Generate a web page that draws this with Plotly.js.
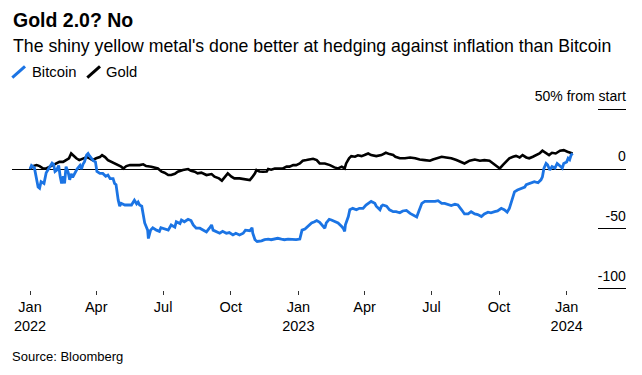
<!DOCTYPE html>
<html>
<head>
<meta charset="utf-8">
<script src="https://cdn.plot.ly/plotly-3.0.1.min.js"></script>
<style>html,body{margin:0;padding:0;background:#fff;}#chart{width:642px;height:375px;}</style>
</head>
<body>
<div id="chart"></div>
<script>
// Bitcoin: % change from start
const btcDates = ["2022-01-01","2022-01-03","2022-01-07","2022-01-12","2022-01-14","2022-01-16","2022-01-20","2022-01-23","2022-01-28","2022-01-31","2022-02-02","2022-02-04","2022-02-06","2022-02-09","2022-02-11","2022-02-13","2022-02-15","2022-02-17","2022-02-19","2022-02-22","2022-02-24","2022-02-26","2022-02-28","2022-03-03","2022-03-06","2022-03-10","2022-03-12","2022-03-14","2022-03-16","2022-03-19","2022-03-21","2022-03-23","2022-03-25","2022-03-28","2022-03-31","2022-04-02","2022-04-06","2022-04-10","2022-04-14","2022-04-17","2022-04-20","2022-04-24","2022-04-26","2022-04-28","2022-05-01","2022-05-03","2022-05-05","2022-05-10","2022-05-14","2022-05-19","2022-05-23","2022-05-26","2022-05-28","2022-05-30","2022-06-02","2022-06-06","2022-06-10","2022-06-11","2022-06-14","2022-06-17","2022-06-22","2022-06-26","2022-06-28","2022-07-03","2022-07-08","2022-07-12","2022-07-17","2022-07-19","2022-07-24","2022-07-26","2022-07-30","2022-08-04","2022-08-08","2022-08-11","2022-08-15","2022-08-20","2022-08-24","2022-08-29","2022-09-02","2022-09-05","2022-09-07","2022-09-11","2022-09-16","2022-09-20","2022-09-25","2022-09-29","2022-10-04","2022-10-08","2022-10-13","2022-10-18","2022-10-21","2022-10-27","2022-10-30","2022-10-31","2022-11-03","2022-11-06","2022-11-12","2022-11-16","2022-11-21","2022-11-25","2022-11-30","2022-12-04","2022-12-09","2022-12-13","2022-12-18","2022-12-23","2022-12-29","2023-01-03","2023-01-06","2023-01-10","2023-01-14","2023-01-19","2023-01-23","2023-01-26","2023-01-30","2023-02-04","2023-02-06","2023-02-08","2023-02-12","2023-02-15","2023-02-19","2023-02-24","2023-03-01","2023-03-03","2023-03-05","2023-03-06","2023-03-10","2023-03-12","2023-03-16","2023-03-21","2023-03-25","2023-03-30","2023-04-03","2023-04-07","2023-04-10","2023-04-15","2023-04-17","2023-04-22","2023-04-24","2023-04-26","2023-05-01","2023-05-05","2023-05-10","2023-05-14","2023-05-19","2023-05-23","2023-05-28","2023-06-02","2023-06-06","2023-06-11","2023-06-14","2023-06-18","2023-06-22","2023-06-27","2023-07-01","2023-07-06","2023-07-10","2023-07-15","2023-07-19","2023-07-24","2023-07-28","2023-08-02","2023-08-06","2023-08-11","2023-08-15","2023-08-20","2023-08-24","2023-08-29","2023-09-02","2023-09-07","2023-09-11","2023-09-16","2023-09-20","2023-09-25","2023-09-29","2023-10-04","2023-10-08","2023-10-12","2023-10-15","2023-10-18","2023-10-22","2023-10-26","2023-10-31","2023-11-05","2023-11-07","2023-11-11","2023-11-14","2023-11-18","2023-11-23","2023-11-27","2023-11-29","2023-12-01","2023-12-04","2023-12-06","2023-12-09","2023-12-12","2023-12-16","2023-12-19","2023-12-23","2023-12-26","2023-12-28","2024-01-01","2024-01-03","2024-01-05","2024-01-07","2024-01-09"];
const btcValues = [0,3,1,-15,-16,-10.5,-12,-3,2,5,4,-2,-1,3,-6,-12,-6,-12,2,-3,-9,-4,-7,-3.6,0,3,0,4,6,11.7,13,11,9,7,6,-2,-3.6,-3.6,-6,-5,-8,-8,-12,-13,-26,-31,-28.6,-30,-30,-30,-26,-29,-27.5,-30,-31,-45,-51,-58,-51,-49,-51,-52,-49,-50,-51,-46.7,-48.5,-44,-45.5,-42.5,-44,-42,-43,-46.7,-49.4,-49.4,-51,-52.5,-49.4,-46.7,-51,-52,-53.6,-52,-53.6,-53,-55,-53.6,-55,-53.6,-51,-51.5,-49,-53.6,-59,-60.5,-60,-59,-58.5,-59,-58.5,-57.8,-58.5,-59,-58.5,-59,-59,-58.5,-51,-50,-47.5,-45,-44,-43,-44.5,-47.5,-49.4,-45,-42,-42.5,-43.5,-45,-48,-49.4,-52,-46.5,-39.7,-34,-32.8,-34,-32.8,-32.8,-30,-28.6,-27,-28.6,-31,-34,-31,-30,-31,-34,-35.6,-35.6,-36.5,-35,-34.5,-37,-38.5,-40,-35,-28.6,-27,-27,-27.5,-27,-26.4,-28.6,-28.6,-30,-30.5,-29.4,-30,-34,-37.5,-37.5,-35.6,-37.5,-38,-39.7,-37.5,-36,-36.5,-35.6,-35,-32.8,-34,-36,-32.8,-27,-19,-17.5,-16,-15,-13,-12,-11.4,-10.5,-11.4,-9,-6.4,0.5,4.7,3.6,-0.8,2,0.8,4.7,2.5,0.8,4.7,6,9,7.8,11.7,13];

// Gold: % change from start
const goldDates = ["2022-01-01","2022-01-05","2022-01-10","2022-01-14","2022-01-19","2022-01-23","2022-01-28","2022-02-01","2022-02-06","2022-02-10","2022-02-15","2022-02-19","2022-02-23","2022-02-26","2022-02-28","2022-03-05","2022-03-09","2022-03-14","2022-03-19","2022-03-23","2022-03-27","2022-04-01","2022-04-06","2022-04-09","2022-04-13","2022-04-17","2022-04-22","2022-04-26","2022-05-01","2022-05-05","2022-05-08","2022-05-12","2022-05-17","2022-05-23","2022-05-30","2022-06-04","2022-06-08","2022-06-15","2022-06-20","2022-06-24","2022-06-29","2022-07-03","2022-07-08","2022-07-12","2022-07-17","2022-07-21","2022-07-28","2022-08-04","2022-08-08","2022-08-13","2022-08-17","2022-08-22","2022-08-29","2022-09-05","2022-09-09","2022-09-15","2022-09-19","2022-09-23","2022-09-27","2022-10-02","2022-10-06","2022-10-13","2022-10-20","2022-10-27","2022-10-30","2022-11-03","2022-11-05","2022-11-09","2022-11-14","2022-11-19","2022-11-21","2022-11-25","2022-11-30","2022-12-04","2022-12-11","2022-12-16","2022-12-20","2022-12-25","2022-12-29","2023-01-03","2023-01-07","2023-01-12","2023-01-16","2023-01-21","2023-01-26","2023-01-30","2023-02-06","2023-02-13","2023-02-19","2023-02-24","2023-03-01","2023-03-05","2023-03-07","2023-03-11","2023-03-14","2023-03-19","2023-03-23","2023-03-28","2023-04-01","2023-04-06","2023-04-10","2023-04-17","2023-04-24","2023-04-30","2023-05-05","2023-05-10","2023-05-13","2023-05-19","2023-05-26","2023-06-02","2023-06-09","2023-06-15","2023-06-22","2023-06-29","2023-07-03","2023-07-10","2023-07-15","2023-07-21","2023-07-28","2023-08-04","2023-08-09","2023-08-15","2023-08-22","2023-08-29","2023-09-05","2023-09-11","2023-09-18","2023-09-23","2023-09-27","2023-10-02","2023-10-06","2023-10-11","2023-10-15","2023-10-20","2023-10-24","2023-10-29","2023-11-02","2023-11-07","2023-11-11","2023-11-16","2023-11-20","2023-11-25","2023-11-29","2023-12-04","2023-12-08","2023-12-12","2023-12-17","2023-12-23","2023-12-28","2024-01-02","2024-01-07","2024-01-09"];
const goldValues = [0,2.5,3.3,2.5,0.5,0.5,2,3.3,4.7,6,6,7.5,9,13,11.7,9,7.5,9,10,9,7.5,9,10,11.7,10,7.5,6,4.7,3.3,2,0.5,2.5,3.3,3.3,3.3,4,2.5,2,1.4,0.5,-2.2,-3,-5,-5,-4,-2.2,-0.8,0,-1.5,-2.2,-3.6,-3,-5,-4.2,-6.4,-7.8,-9.7,-6.4,-3.6,-6.4,-7.8,-7.8,-8.6,-9.2,-7,-3.6,-0.8,-2,-2.2,-2,0,-0.5,0.5,0.5,0.5,2,2,3.3,3.3,4.7,7,7.5,8,8.6,7.5,4.7,4.7,3.3,1.4,0.5,2,0.5,4.7,9,10.8,10.3,11.5,10.8,11.7,13,11.7,10.8,11.7,13.6,12.5,11.7,10.3,9,9,9.7,9,8,7.5,7,8,9,10.3,9.7,9,7.5,6.4,4.7,7,8,7,7.5,7,4.7,2.5,0.5,3.3,7,9,10.3,11,9.7,11.7,9.7,9,10.3,11.7,13,15.3,13.6,11.7,13.6,13,15.3,15.8,14.5,13.6,13];

const xTickVals = ["2022-01-01","2022-04-01","2022-07-01","2022-10-01","2023-01-01","2023-04-01","2023-07-01","2023-10-01","2024-01-01"];
const xTickText = ["Jan<br>2022","Apr","Jul","Oct","Jan<br>2023","Apr","Jul","Oct","Jan<br>2024"];
const yTickVals = [-100,-50,0,50];
const yTickText = ["-100","-50","0","50% from start"];

const FONT = "Liberation Sans, Arial, Helvetica, sans-serif";
const BLUE = "#1b74e4";

const traces = [
  {x: goldDates, y: goldValues, type: "scatter", mode: "lines", name: "Gold",
   line: {color: "#000000", width: 2.6}, hoverinfo: "skip"},
  {x: btcDates, y: btcValues, type: "scatter", mode: "lines", name: "Bitcoin",
   line: {color: BLUE, width: 2.8}, hoverinfo: "skip"}
];

// plot area in pixels: x 12..626, y 107.8..290.2 (range -101..51)
const PT = 107.8, PB = 290.2, PH = PB - PT;
const px = v => (v - 12) / 614;
const py = v => (PB - v) / PH;

const layout = {
  width: 642, height: 375,
  margin: {l: 12, r: 16, t: PT, b: 375 - PB, pad: 0},
  paper_bgcolor: "#fff", plot_bgcolor: "#fff",
  showlegend: false,
  font: {family: FONT, color: "#000", size: 14},
  xaxis: {
    type: "date",
    range: ["2021-12-07 12:00", "2024-03-21 16:00"],
    tickvals: xTickVals, ticktext: xTickText,
    ticks: "outside", ticklen: 4, tickwidth: 1, tickcolor: "#333",
    showgrid: false, zeroline: false, showline: false,
    tickfont: {family: FONT, size: 14.5, color: "#000"}
  },
  yaxis: {
    range: [-101, 51], side: "right",
    tickvals: yTickVals, ticktext: yTickText,
    ticks: "inside", ticklen: 28, tickwidth: 1, tickcolor: "#000",
    ticklabelposition: "inside", ticklabelshift: -13, ticklabelstandoff: -28,
    ticklabeloverflow: "allow",
    showgrid: false, showline: false,
    zeroline: true, zerolinecolor: "#000", zerolinewidth: 1,
    tickfont: {family: FONT, size: 14, color: "#000"}
  },
  shapes: [
    {type: "line", xref: "paper", yref: "paper", x0: px(12.3), y0: py(77.3), x1: px(25), y1: py(66), line: {color: BLUE, width: 3}},
    {type: "line", xref: "paper", yref: "paper", x0: px(87.3), y0: py(77.3), x1: px(100), y1: py(66), line: {color: "#000", width: 3}}
  ],
  annotations: [
    {text: "<b>Gold 2.0? No</b>", xref: "paper", yref: "paper", x: px(11), y: py(20), xanchor: "left", yanchor: "middle", showarrow: false, font: {family: FONT, size: 19.5, color: "#000"}},
    {text: "The shiny yellow metal's done better at hedging against inflation than Bitcoin", xref: "paper", yref: "paper", x: px(11), y: py(46), xanchor: "left", yanchor: "middle", showarrow: false, font: {family: FONT, size: 17.7, color: "#000"}},
    {text: "Bitcoin", xref: "paper", yref: "paper", x: px(30), y: py(72), xanchor: "left", yanchor: "middle", showarrow: false, font: {family: FONT, size: 14.8, color: "#000"}},
    {text: "Gold", xref: "paper", yref: "paper", x: px(104), y: py(72), xanchor: "left", yanchor: "middle", showarrow: false, font: {family: FONT, size: 14.8, color: "#000"}},
    {text: "Source: Bloomberg", xref: "paper", yref: "paper", x: px(10), y: py(357), xanchor: "left", yanchor: "middle", showarrow: false, font: {family: FONT, size: 13, color: "#000"}}
  ]
};

Plotly.newPlot("chart", traces, layout, {displayModeBar: false, staticPlot: true});
</script>
</body>
</html>
